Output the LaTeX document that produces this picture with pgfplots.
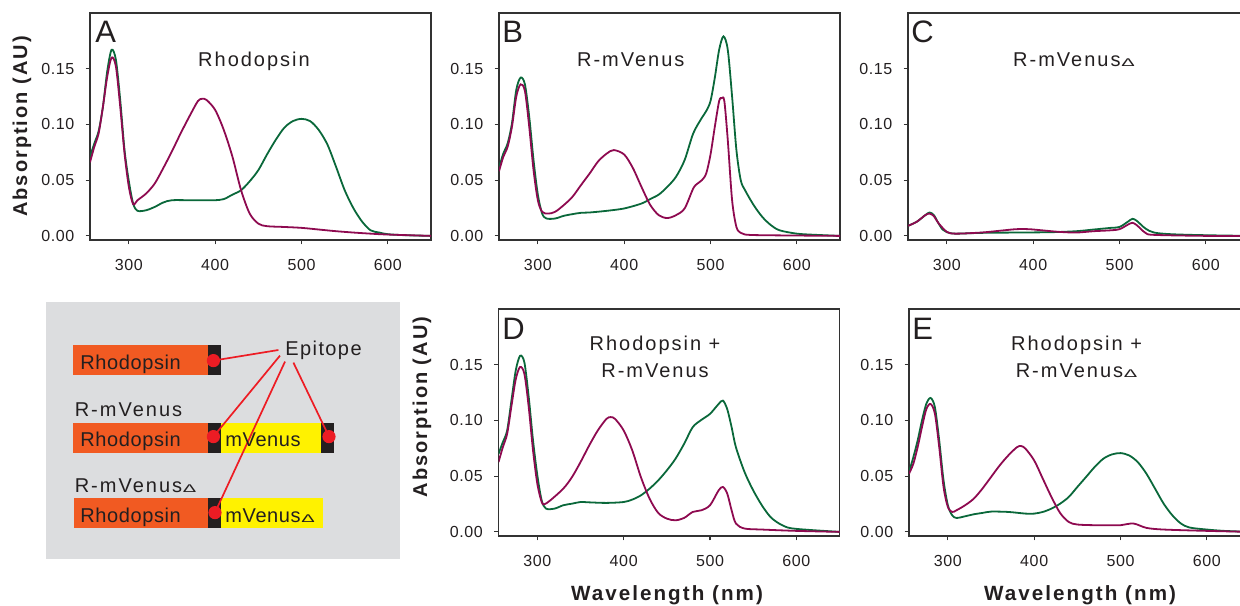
\documentclass[border=0pt]{standalone}
\usepackage{fontspec}
\setmainfont{Liberation Sans}
\newfontfamily\tickf[LetterSpace=4]{Liberation Sans}
\newfontfamily\ttlf[LetterSpace=10]{Liberation Sans}
\newfontfamily\barf[LetterSpace=3]{Liberation Sans}
\newfontfamily\labf[LetterSpace=10]{Liberation Sans Bold}
\newfontfamily\dfont[FakeStretch=1.8]{Liberation Sans}
\usepackage{pgfplots}
\pgfplotsset{compat=1.18}
\definecolor{gr}{RGB}{10,104,58}
\definecolor{mg}{RGB}{142,10,80}
\definecolor{axc}{RGB}{50,50,50}
\definecolor{txt}{RGB}{35,31,32}
\definecolor{bxgray}{RGB}{220,221,223}
\definecolor{orng}{RGB}{241,90,34}
\definecolor{yel}{RGB}{255,242,0}
\definecolor{rd}{RGB}{237,28,36}
\newcommand\dlt{\kern0.4pt{\fontsize{5.6}{6}\dfont Δ}}
\newcommand\tk{\fontsize{8}{9}\tickf}
\newcommand\ttl{\fontsize{10}{13.3}\ttlf}
\newcommand\barfont{\fontsize{10}{12}\barf}

\pgfplotsset{
  spec/.style={scale only axis, width=170.5pt, height=113.5pt,
    xmin=255, xmax=650, ymin=-0.0037, ymax=0.2,
    axis line style={draw=axc, line width=0.65pt},
    tick align=outside, tick pos=left, major tick length=2.2pt,
    tick style={draw=axc, line width=0.55pt},
    xtick={300,400,500,600}, xticklabels={300,400,500,600},
    ytick={0,0.05,0.1,0.15}, yticklabels={0.00,0.05,0.10,0.15},
    ticklabel style={font=\tk, text=txt},
    yticklabel style={xshift=-2.1pt},
    xticklabel style={yshift=-3.9pt},
    /pgf/number format/assume math mode=true},
  gline/.style={gr, line width=0.9pt, smooth, tension=0.5},
  mline/.style={mg, line width=0.9pt, smooth, tension=0.5},
}

\begin{document}
\begin{tikzpicture}

% A
\begin{axis}[spec, at={(45pt,-120pt)}, anchor=south west]
\addplot[gline] coordinates {
(255,0.071) (260,0.083) (265,0.094) (270,0.116) (275,0.148) (280,0.167) (285,0.158)
(290,0.122) (295,0.077) (300,0.049) (305,0.029) (310,0.0225) (320,0.023) (330,0.026)
(340,0.030) (350,0.032) (370,0.032) (390,0.032) (400,0.032) (410,0.033) (420,0.037)
(430,0.041) (440,0.049) (450,0.059) (460,0.073) (470,0.086) (480,0.097) (490,0.103)
(500,0.105) (510,0.103) (520,0.095) (530,0.082) (540,0.062) (550,0.041) (560,0.025)
(570,0.013) (580,0.005) (590,0.003) (600,0.0015) (620,0.0006) (650,0)};
\addplot[mline] coordinates {
(255,0.066) (260,0.080) (265,0.092) (270,0.116) (275,0.143) (280,0.160) (285,0.152)
(290,0.116) (295,0.074) (300,0.044) (305,0.0285) (310,0.032) (320,0.038) (330,0.047)
(340,0.061) (350,0.076) (360,0.092) (370,0.107) (380,0.121) (385,0.123) (390,0.122)
(400,0.113) (410,0.095) (420,0.071) (430,0.041) (440,0.020) (450,0.011) (460,0.0087)
(480,0.008) (500,0.0072) (520,0.0057) (540,0.0042) (560,0.003) (580,0.002) (600,0.0012)
(650,0)};
\end{axis}

% B
\begin{axis}[spec, at={(249.5pt,-120pt)}, anchor=south west]
\addplot[gline] coordinates {
(255,0.061) (260,0.074) (265,0.083) (270,0.101) (275,0.131) (280,0.142) (285,0.136)
(290,0.107) (295,0.068) (300,0.037) (305,0.020) (310,0.0156) (320,0.0156) (330,0.018)
(340,0.0195) (350,0.0207) (360,0.021) (380,0.0225) (400,0.0246) (420,0.029) (430,0.033)
(440,0.037) (450,0.044) (460,0.053) (470,0.068) (480,0.092) (490,0.106) (495,0.112)
(500,0.121) (505,0.142) (510,0.167) (515,0.179) (520,0.167) (525,0.125) (530,0.077)
(535,0.050) (540,0.041) (550,0.0276) (560,0.017) (570,0.0096) (580,0.005) (600,0.002)
(620,0.001) (650,0)};
\addplot[mline] coordinates {
(255,0.058) (260,0.071) (265,0.080) (270,0.098) (275,0.125) (280,0.136) (285,0.130)
(290,0.098) (295,0.059) (300,0.032) (305,0.0216) (312,0.020) (320,0.0216) (330,0.0276)
(340,0.035) (350,0.0456) (360,0.056) (370,0.067) (380,0.074) (388,0.077) (400,0.073)
(410,0.061) (420,0.044) (430,0.028) (440,0.0186) (450,0.016) (460,0.0186) (470,0.0246)
(480,0.0426) (485,0.047) (490,0.050) (495,0.056) (500,0.073) (505,0.098) (510,0.121)
(513,0.1236) (516,0.121) (520,0.086) (525,0.032) (530,0.008) (535,0.0027) (540,0.0012)
(560,0.0006) (650,0)};
\end{axis}

% C
\begin{axis}[spec, at={(454pt,-120pt)}, anchor=south west]
\addplot[gline] coordinates {
(255,0.009) (265,0.0126) (275,0.0186) (280,0.021) (285,0.0186) (290,0.0117) (295,0.0057)
(300,0.0033) (310,0.002) (340,0.0027) (380,0.003) (420,0.0033) (450,0.0042) (470,0.0057)
(490,0.0072) (500,0.008) (510,0.0129) (515,0.0153) (520,0.0135) (530,0.0066) (540,0.003)
(560,0.0015) (600,0.0006) (650,0)};
\addplot[mline] coordinates {
(255,0.009) (265,0.0126) (275,0.0186) (280,0.020) (285,0.0177) (290,0.0117) (300,0.0036)
(310,0.002) (340,0.003) (360,0.0045) (380,0.006) (395,0.006) (410,0.005) (430,0.0036)
(450,0.003) (470,0.0042) (490,0.005) (500,0.006) (510,0.0102) (515,0.0117) (520,0.0096)
(530,0.0027) (540,0.0009) (600,0) (650,0)};
\end{axis}

% D
\begin{axis}[spec, at={(249.25pt,-268pt)}, anchor=south west]
\addplot[gline] coordinates {
(255,0.070) (260,0.0805) (265,0.091) (270,0.118) (275,0.145) (280,0.158) (285,0.152)
(290,0.121) (295,0.082) (300,0.0507) (305,0.0283) (310,0.0209) (320,0.0209) (330,0.0239)
(340,0.0253) (350,0.0268) (360,0.0265) (380,0.026) (400,0.0268) (410,0.029) (420,0.0328)
(430,0.0388) (440,0.0462) (450,0.0552) (460,0.0656) (470,0.079) (480,0.094) (490,0.1005)
(500,0.1059) (510,0.1148) (515,0.1178) (520,0.110) (525,0.094) (530,0.076) (540,0.0537)
(550,0.0373) (560,0.0239) (570,0.0134) (580,0.0075) (590,0.0039) (600,0.0027) (620,0.0015)
(650,0)};
\addplot[mline] coordinates {
(255,0.0626) (260,0.076) (265,0.088) (270,0.113) (275,0.137) (280,0.148) (285,0.1417)
(290,0.112) (295,0.073) (300,0.043) (305,0.0268) (308,0.0248) (315,0.0283) (330,0.0388)
(340,0.049) (350,0.0626) (360,0.0775) (370,0.091) (380,0.1014) (385,0.103) (390,0.1014)
(400,0.091) (410,0.073) (420,0.049) (430,0.0298) (440,0.017) (450,0.0119) (460,0.0104)
(470,0.0125) (480,0.0179) (490,0.0194) (500,0.0239) (510,0.0373) (515,0.0403) (520,0.0343)
(525,0.0194) (530,0.0075) (540,0.003) (560,0.0021) (600,0.0009) (650,0)};
\end{axis}

% E
\begin{axis}[spec, at={(454.5pt,-268pt)}, anchor=south west]
\addplot[gline] coordinates {
(255,0.0537) (260,0.067) (265,0.082) (270,0.0999) (275,0.1148) (280,0.1202) (285,0.1118)
(290,0.082) (295,0.0462) (300,0.0239) (305,0.0149) (310,0.0125) (320,0.014) (330,0.0158)
(340,0.017) (350,0.0182) (370,0.0179) (390,0.0164) (400,0.0164) (410,0.0179) (420,0.0209)
(430,0.0253) (440,0.0313) (450,0.0403) (460,0.0492) (470,0.0582) (480,0.0656) (490,0.0695)
(500,0.0707) (510,0.0686) (520,0.0626) (530,0.0522) (540,0.0388) (550,0.0253) (560,0.0149)
(570,0.0075) (580,0.0039) (600,0.0021) (620,0.0009) (650,0)};
\addplot[mline] coordinates {
(255,0.0522) (260,0.0611) (265,0.076) (270,0.094) (275,0.110) (280,0.1148) (285,0.106)
(290,0.076) (295,0.0403) (300,0.0224) (305,0.0179) (310,0.0194) (320,0.0239) (330,0.0298)
(340,0.0388) (350,0.0492) (360,0.0596) (370,0.0686) (380,0.076) (385,0.077) (390,0.0746)
(400,0.0641) (410,0.0477) (420,0.0313) (430,0.017) (440,0.0089) (450,0.0066) (470,0.006)
(490,0.006) (500,0.006) (515,0.0075) (530,0.0036) (550,0.0021) (600,0.0009) (650,0)};
\end{axis}

% panel letters and titles
\begin{scope}[every node/.style={inner sep=0pt, text=txt}]
\node[anchor=base west, font=\fontsize{15.5}{16}\selectfont] at (47.5pt,-21pt) {A};
\node[anchor=base west, font=\fontsize{15.5}{16}\selectfont] at (251pt,-21pt) {B};
\node[anchor=base west, font=\fontsize{15.5}{16}\selectfont] at (455.5pt,-21pt) {C};
\node[anchor=base west, font=\fontsize{15.5}{16}\selectfont] at (251pt,-169.6pt) {D};
\node[anchor=base west, font=\fontsize{15.5}{16}\selectfont] at (456pt,-169.6pt) {E};
\node[anchor=base, font=\ttl] at (127pt,-33.3pt) {Rhodopsin};
\node[anchor=base, font=\ttl] at (315.4pt,-33.3pt) {R-mVenus};
\node[anchor=base, font=\ttl] at (537pt,-33.3pt) {R-mVenus\dlt};
\node[anchor=base, font=\ttl, align=center] at (327.5pt,-188.7pt) {Rhodopsin +\\R-mVenus};
\node[anchor=base, font=\ttl, align=center] at (538.3pt,-188.7pt) {Rhodopsin +\\R-mVenus\dlt};
% axis labels
\node[rotate=90, font=\fontsize{10}{12}\labf] at (11pt,-63.25pt) {Absorption (AU)};
\node[rotate=90, font=\fontsize{10}{12}\labf] at (211pt,-203.5pt) {Absorption (AU)};
\node[anchor=base, font=\fontsize{10.3}{12}\labf] at (333.5pt,-300pt) {Wavelength (nm)};
\node[anchor=base, font=\fontsize{10.3}{12}\labf] at (540pt,-300pt) {Wavelength (nm)};
\end{scope}

% construct schematic
\fill[bxgray] (23pt,-150.8pt) rectangle (200pt,-279.7pt);
\fill[orng] (36.3pt,-172.5pt) rectangle (104.2pt,-187.5pt);
\fill[txt] (104.2pt,-172.5pt) rectangle (110.5pt,-187.5pt);
\fill[orng] (36.3pt,-211.7pt) rectangle (104.2pt,-226.3pt);
\fill[txt] (104.2pt,-211.7pt) rectangle (110.5pt,-226.3pt);
\fill[yel] (110.5pt,-211.7pt) rectangle (160.5pt,-226.3pt);
\fill[txt] (160.5pt,-211.7pt) rectangle (167pt,-226.3pt);
\fill[orng] (37pt,-249.2pt) rectangle (104.2pt,-263.8pt);
\fill[txt] (104.2pt,-249.2pt) rectangle (110.5pt,-263.8pt);
\fill[yel] (110.5pt,-249.2pt) rectangle (161.3pt,-263.8pt);
\begin{scope}[rd, line width=0.85pt]
\draw (139.2pt,-175pt) -- (106.7pt,-180.3pt);
\draw (140pt,-177.8pt) -- (106.7pt,-218.3pt);
\draw (142.5pt,-180.8pt) -- (107.5pt,-256.3pt);
\draw (146.7pt,-181.3pt) -- (164.5pt,-218.3pt);
\end{scope}
\fill[rd] (106.7pt,-180.3pt) circle (3.3pt);
\fill[rd] (106.7pt,-218.3pt) circle (3.3pt);
\fill[rd] (164.5pt,-218.3pt) circle (3.3pt);
\fill[rd] (107.5pt,-256.3pt) circle (3.3pt);
\begin{scope}[every node/.style={inner sep=0pt, text=txt, anchor=base west, font=\barfont}]
\node at (40pt,-184.7pt) {Rhodopsin};
\node at (40pt,-223pt) {Rhodopsin};
\node at (112.5pt,-223pt) {mVenus};
\node at (40pt,-261.2pt) {Rhodopsin};
\node at (112.5pt,-261.2pt) {mVenus\dlt};
\node[font=\ttl] at (37.2pt,-208pt) {R-mVenus};
\node[font=\ttl] at (37.2pt,-246.3pt) {R-mVenus\dlt};
\node[font=\fontsize{10}{12}\barf\addfontfeature{LetterSpace=7}] at (142.5pt,-177.5pt) {Epitope};
\end{scope}

\pgfresetboundingbox
\path[use as bounding box] (0pt,0pt) rectangle (620pt,-302.5pt);
\end{tikzpicture}
\end{document}
